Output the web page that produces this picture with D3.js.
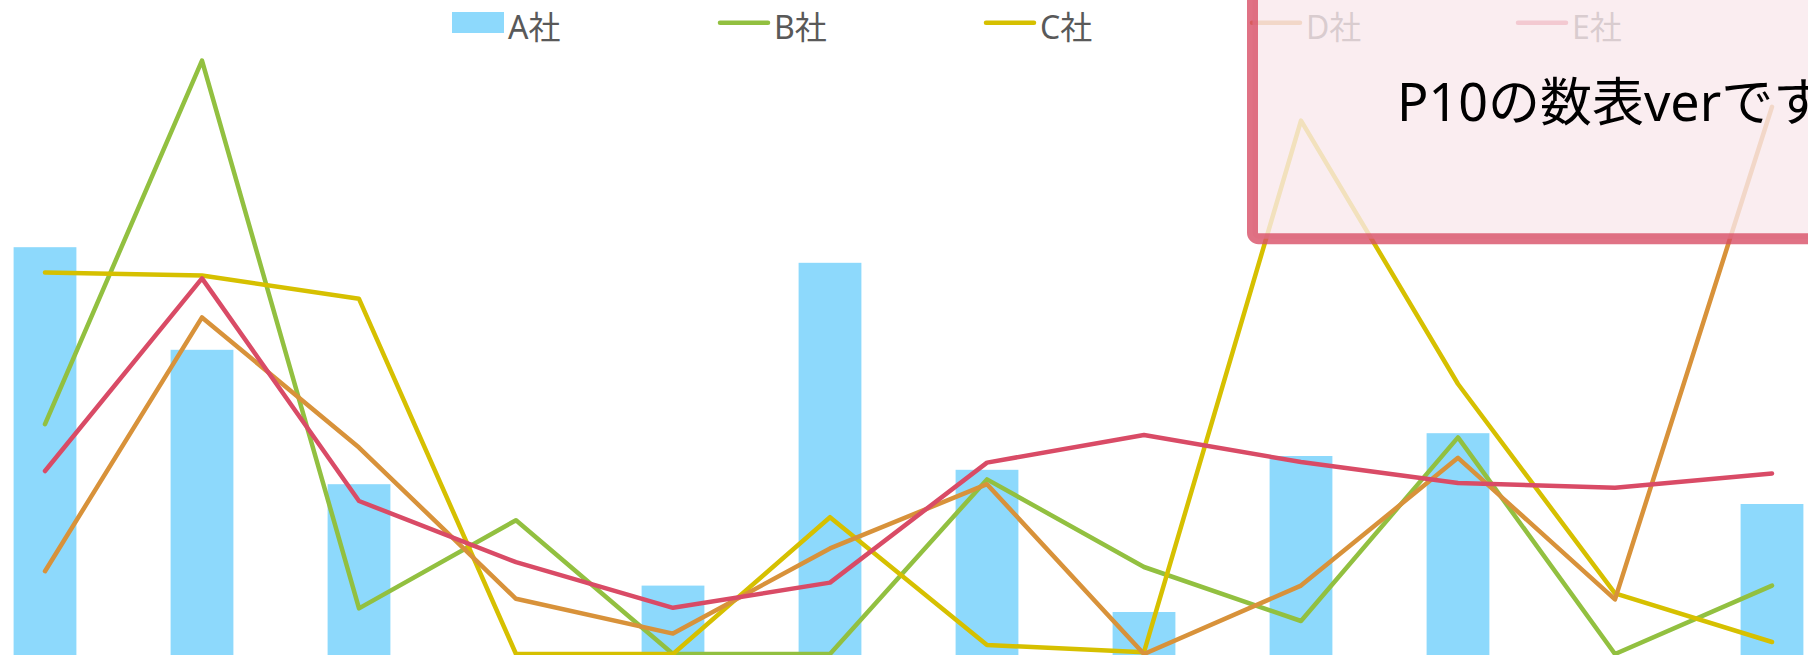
<!DOCTYPE html>
<html>
<head>
<meta charset="utf-8">
<script src="https://cdn.jsdelivr.net/npm/d3@7"></script>
<style>
	body { margin: 0; background: #fff; }
	svg { display: block; font-family: "Noto Sans", "Noto Sans CJK JP", sans-serif; }
</style>
</head>
<body>
<svg id="svg-companies" width="1808" height="655"></svg>
<script>
// data (no axis shown, values in chart units 0-100)
var categories = ["1月", "2月", "3月", "4月", "5月", "6月", "7月", "8月", "9月", "10月", "11月", "12月"];
var seriesA = [67.8, 50.7, 28.3, 0, 11.4, 65.2, 30.7, 7.0, 33.0, 36.8, 0, 25.0];
var seriesB = [38.3, 98.9, 7.6, 22.3, 0, 0, 29.1, 14.5, 5.5, 36.1, 0, 11.4];
var seriesC = [63.6, 63.1, 59.2, 0, 0, 22.8, 1.5, 0.3, 88.9, 45.0, 10.1, 2.0];
var seriesD = [13.8, 56.1, 34.4, 9.2, 3.4, 17.6, 28.3, 0, 11.4, 32.7, 9.1, 91.2];
var seriesE = [30.5, 62.6, 25.5, 15.3, 7.7, 11.9, 31.9, 36.5, 32.0, 28.5, 27.7, 30.1];
var seriesNames = ["A社", "B社", "C社", "D社", "E社"];
var noteText = "P10の数表verです";

var colors = ["#8dd9fc", "#92c040", "#d6c000", "#d8923a", "#d94b66"];

var svg = d3.select("svg#svg-companies"),
	width = +svg.attr("width"),
	height = +svg.attr("height");

// set the ranges
var x = d3.scalePoint().domain(categories).range([45, 1772]);
var y = d3.scaleLinear().domain([0, 100]).range([654, 54]);
var barWidth = x.step() * 0.4;

// bars for A社
svg.append("g")
	.selectAll("rect")
	.data(seriesA.map(function (v, i) { return {cat: categories[i], value: v}; }))
	.enter().append("rect")
	.attr("x", function (d) { return x(d.cat) - barWidth / 2; })
	.attr("y", function (d) { return y(d.value); })
	.attr("width", barWidth)
	.attr("height", function (d) { return d.value > 0 ? height - y(d.value) : 0; })
	.style("fill", colors[0]);

// lines for B..E社
var valueline = d3.line()
	.x(function (d, i) { return x(categories[i]); })
	.y(function (d) { return y(d); });

var lineData = [seriesB, seriesC, seriesD, seriesE];
svg.append("g")
	.selectAll("path")
	.data(lineData)
	.enter().append("path")
	.attr("d", valueline)
	.style("fill", "none")
	.style("stroke", function (d, i) { return colors[i + 1]; })
	.style("stroke-width", 4.5)
	.style("stroke-linejoin", "round")
	.style("stroke-linecap", "round");

// legend
var legend = svg.selectAll(".legend")
	.data(seriesNames)
	.enter().append("g")
	.attr("class", "legend")
	.attr("transform", function (d, i) { return "translate(" + (452 + i * 266) + ",0)"; });

legend.filter(function (d, i) { return i == 0; })
	.append("rect")
	.attr("x", 0)
	.attr("y", 12)
	.attr("width", 52)
	.attr("height", 21)
	.style("fill", colors[0]);

legend.filter(function (d, i) { return i > 0; })
	.append("line")
	.attr("x1", 2)
	.attr("x2", 50)
	.attr("y1", 22.7)
	.attr("y2", 22.7)
	.style("stroke", function (d) { return colors[seriesNames.indexOf(d)]; })
	.style("stroke-width", 4.5)
	.style("stroke-linecap", "round");

legend.append("text")
	.attr("x", 56)
	.attr("y", 38.5)
	.attr("font-size", "32px")
	.attr("fill", "#595959")
	.text(function (d) { return d; });

// note box on top
var note = svg.append("g");
note.append("rect")
	.attr("x", 1252.5)
	.attr("y", -30)
	.attr("width", 700)
	.attr("height", 268.7)
	.attr("rx", 6)
	.style("fill", "rgba(249,232,236,0.8)")
	.style("stroke", "rgba(216,79,102,0.8)")
	.style("stroke-width", 11);

note.append("text")
	.attr("x", 1397)
	.attr("y", 121)
	.attr("font-size", "52px")
	.attr("fill", "#000")
	.text(noteText);
</script>
</body>
</html>
